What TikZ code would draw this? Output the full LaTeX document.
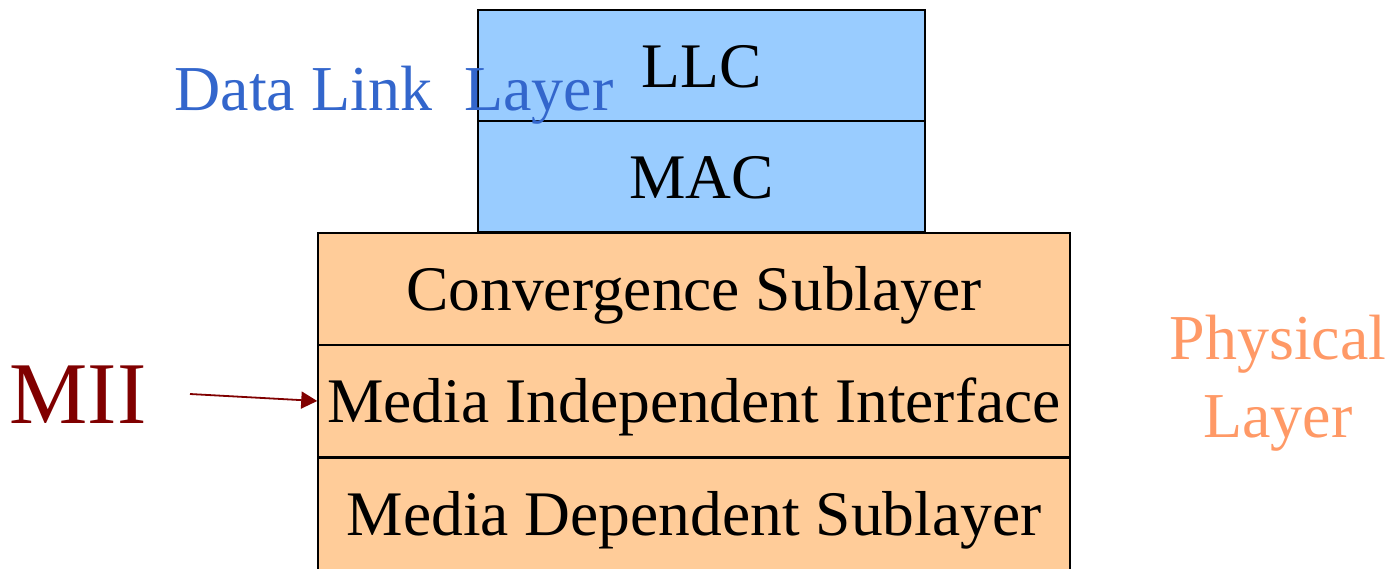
\documentclass[tikz,border=0pt]{standalone}
\usepackage{fontspec}
\setmainfont{Liberation Serif}
\usetikzlibrary{arrows.meta}
\definecolor{linkblue}{HTML}{99CCFF}
\definecolor{phyorange}{HTML}{FFCC99}
\definecolor{linktext}{HTML}{3366CC}
\definecolor{phytext}{HTML}{FF9966}
\definecolor{miired}{HTML}{800000}
\tikzset{
  layerbox/.style={draw, line width=1.5pt, rectangle, inner sep=0pt,
    text height=43pt, text depth=0pt,
    font=\fontsize{63.5}{70}\selectfont},
  linkbox/.style={layerbox, fill=linkblue, minimum width=447pt, minimum height=111pt},
  phybox/.style={layerbox, fill=phyorange, minimum width=752pt, minimum height=112pt},
  sidelabel/.style={font=\fontsize{64}{78}\selectfont, inner sep=0pt}
}
\begin{document}
\begin{tikzpicture}[x=1pt,y=-1pt]
\useasboundingbox (0,0) rectangle (1393,568);

\node (llc) at (701.5,65.5) [linkbox] {LLC};
\node (mac) at (701.5,176.5) [linkbox] {MAC};
\node (conv) at (694,289) [phybox] {Convergence Sublayer};
\node (mii) at (694,401) [phybox] {Media Independent Interface};
\node (mds) at (694,514) [phybox] {Media Dependent Sublayer};

\node (dll) at (394,95) [sidelabel, text=linktext] {Data Link\ \ Layer};
\node (phy) at (1278,383) [sidelabel, text=phytext, align=center] {Physical\\Layer};
\node (miilabel) at (78,395) [sidelabel, text=miired, font=\fontsize{88}{96}\selectfont] {MII};

\coordinate (miistart) at (190,394);
\draw[miired, line width=1.8pt, -{Triangle[length=16pt,width=17pt]}]
(miistart) to (mii.west);
\end{tikzpicture}
\end{document}
